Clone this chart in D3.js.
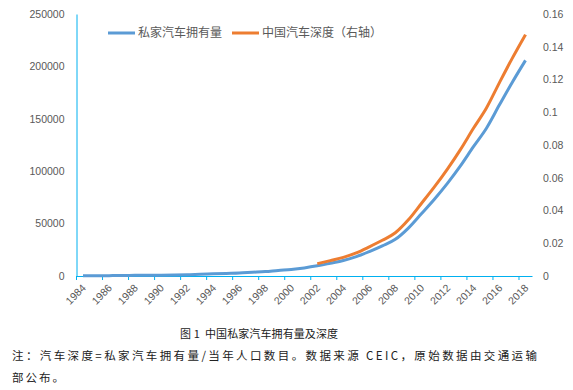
<!DOCTYPE html>
<html>
<head>
<meta charset="utf-8">
<script src="https://cdn.jsdelivr.net/npm/d3@7"></script>
<style>
  body { margin: 0; background: #fff; }
  .axis text { fill: #595959; font-family: "Liberation Sans", Arial, sans-serif; font-size: 10.5px; }
  .cap { font-family: "Noto Sans CJK SC", sans-serif; fill: #222; }
</style>
</head>
<body>
<div id="chart"></div>
<script>
const width = 573;
const height = 390;

// 数据
const years = d3.range(1984, 2019);
const privateCars = [
  180, 285, 347, 423, 604, 731, 816, 960, 1182, 1558,
  2054, 2500, 2897, 3584, 4237, 5339, 6253, 7708, 9690, 12192,
  14817, 18481, 23333, 28762, 35014, 45749, 59387, 73268, 88386, 105017,
  123394, 140991, 163302, 185151, 205749,
];
const depthYears = d3.range(2002, 2019);
const carDepth = [
  0.0075, 0.0094, 0.0114, 0.0141, 0.0178, 0.0218, 0.0264, 0.0343, 0.0443,
  0.0544, 0.0653, 0.0772, 0.0902, 0.1026, 0.1181, 0.1332, 0.1474,
];
const leftTicks = [0, 50000, 100000, 150000, 200000, 250000];
const rightTicks = [0, 0.02, 0.04, 0.06, 0.08, 0.1, 0.12, 0.14, 0.16];
const seriesNames = ["私家汽车拥有量", "中国汽车深度（右轴）"];
const colors = ["#5B9BD5", "#ED7D31"];

const axisColor = "#00B0F0";
const plotL = 76.5, plotR = 532, plotT = 14, plotB = 276;

const svg = d3
  .select("#chart")
  .append("svg")
  .attr("width", width)
  .attr("height", height);

const xScale = d3.scaleBand().domain(years).range([plotL, plotR]).padding(0);
const bw = xScale.bandwidth();
const xc = (y) => xScale(y) + bw / 2;

const yLeft = d3.scaleLinear().domain([0, 250000]).range([plotB, plotT]);
const yRight = d3.scaleLinear().domain([0, 0.16]).range([plotB, plotT]);

// 左轴
const yAxisG = svg.append("g").attr("class", "axis").attr("transform", "translate(" + plotL + ",0)");
yAxisG.call(d3.axisLeft(yLeft).tickValues(leftTicks).tickSize(0).tickPadding(12).tickFormat(d3.format("d")));
yAxisG.select(".domain").attr("stroke", axisColor);

// 右轴
const yAxisR = svg.append("g").attr("class", "axis").attr("transform", "translate(" + plotR + ",0)");
yAxisR.call(d3.axisRight(yRight).tickValues(rightTicks).tickSize(0).tickPadding(11).tickFormat((d) => (d === 0 ? "0" : String(+d.toFixed(2)))));
yAxisR.select(".domain").remove();

// x 轴
const xAxisG = svg.append("g").attr("class", "axis").attr("transform", "translate(0," + plotB + ")");
xAxisG.call(
  d3.axisBottom(xScale)
    .tickValues(years.filter((y) => y % 2 === 0))
    .tickSizeInner(4)
    .tickSizeOuter(0)
);
xAxisG.select(".domain").attr("stroke", axisColor);
xAxisG.selectAll(".tick line").attr("stroke", axisColor).attr("transform", "translate(" + (-bw / 2) + ",0)");
xAxisG
  .selectAll(".tick text")
  .attr("x", 0)
  .attr("y", 0)
  .attr("dy", "0.35em")
  .attr("transform", "translate(1,10) rotate(-45)")
  .style("text-anchor", "end");

// 线
const lineLeft = d3.line().x((d) => xc(d[0])).y((d) => yLeft(d[1])).curve(d3.curveMonotoneX);
const lineRight = d3.line().x((d) => xc(d[0])).y((d) => yRight(d[1])).curve(d3.curveMonotoneX);

svg.append("path")
  .datum(years.map((y, i) => [y, privateCars[i]]))
  .attr("fill", "none")
  .attr("stroke", colors[0])
  .attr("stroke-width", 3)
  .attr("stroke-linejoin", "round")
  .attr("d", lineLeft);

svg.append("path")
  .datum(depthYears.map((y, i) => [y, carDepth[i]]))
  .attr("fill", "none")
  .attr("stroke", colors[1])
  .attr("stroke-width", 3)
  .attr("stroke-linejoin", "round")
  .attr("d", lineRight);

// 图例
const legendX = [108, 232];
seriesNames.forEach((name, i) => {
  const g = svg.append("g").attr("transform", "translate(" + legendX[i] + ",33)");
  g.append("line").attr("x1", 0).attr("x2", 27).attr("stroke", colors[i]).attr("stroke-width", 3);
  g.append("text")
    .attr("x", 30)
    .attr("dy", "0.35em")
    .attr("fill", "#595959")
    .style("font-family", '"Noto Sans CJK SC", sans-serif')
    .style("font-size", "12px")
    .text(name);
});

// 标题和注释
svg.append("text")
  .attr("class", "cap")
  .attr("x", 259)
  .attr("y", 338)
  .attr("text-anchor", "middle")
  .style("font-size", "11px")
  .style("white-space", "pre")
  .attr("textLength", 158)
  .attr("lengthAdjust", "spacing")
  .text("图 1  中国私家汽车拥有量及深度");

svg.append("text")
  .attr("class", "cap")
  .attr("x", 12)
  .attr("y", 360)
  .style("font-size", "11.5px")
  .attr("textLength", 525)
  .attr("lengthAdjust", "spacing")
  .text("注：汽车深度=私家汽车拥有量/当年人口数目。数据来源 CEIC，原始数据由交通运输");

svg.append("text")
  .attr("class", "cap")
  .attr("x", 12)
  .attr("y", 382)
  .style("font-size", "11.5px")
  .attr("textLength", 52)
  .attr("lengthAdjust", "spacing")
  .text("部公布。");
</script>
</body>
</html>
